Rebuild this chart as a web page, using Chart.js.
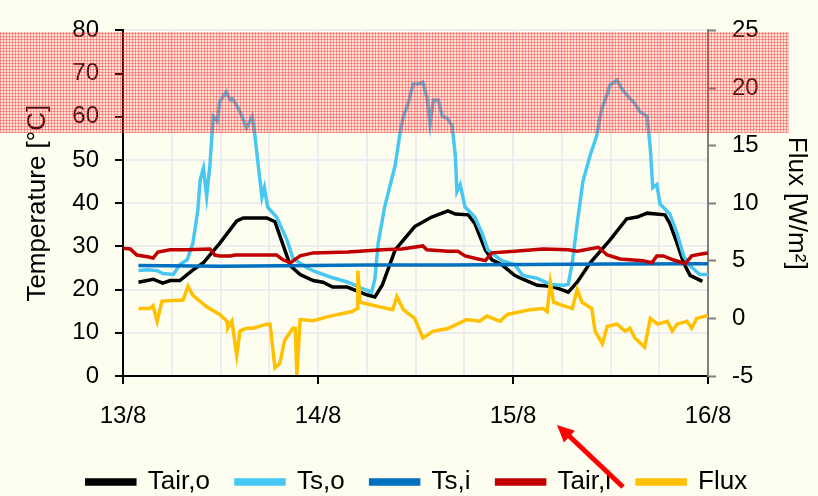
<!DOCTYPE html>
<html>
<head>
<meta charset="utf-8">
<script src="https://cdn.jsdelivr.net/npm/chart.js@4.4.0/dist/chart.umd.min.js"></script>
<style>
  html, body { margin: 0; padding: 0; background: #FEFEF0; }
</style>
</head>
<body>
<canvas id="chart" width="818" height="496"></canvas>
<script>
// hours since 13/8 00:00
let dayLabels = ['13/8', '14/8', '15/8', '16/8'];

let tairOHours = [1.9,3.7,4.9,5.8,7,8.5,9.9,11.9,14,14.8,17.7,18.7,19.3,20.6,21.8,23.4,24.6,25.8,27.6,30,31,31.9,33.5,35.9,38,40,40.9,42.5,43.3,44.6,45.4,46.6,48.2,49.2,51,52.6,53.8,54.8,55.9,57.5,59.9,62,63.3,64.5,66.7,67.3,68.2,69,69.8,71.3];
let tairOVals  = [21.7,22.4,21.5,22.1,22.1,24.4,26.2,30.7,35.9,36.6,36.6,35.7,32.5,25.5,23.5,22.1,21.7,20.6,20.6,18.8,18.3,21,29.2,34.6,36.8,38.2,37.5,37.3,35.3,29.2,26.9,25.8,23.3,22.4,21,20.8,20.1,19.4,21.7,26.2,31.4,36.4,36.8,37.7,37.3,35.3,30.7,26.2,23.3,21.9];

let tsOHours = [1.9,3,4.2,4.9,6.2,7,7.9,8.6,9.2,9.5,9.9,10.3,10.7,11.1,11.6,11.9,12.7,13.2,13.5,14.4,15.2,15.9,16.2,16.6,17.1,17.4,17.8,18.9,20.2,20.9,22.6,23.6,25.7,27.7,29.4,30.6,31,31.4,32.2,33.5,34.1,34.5,35.1,35.7,36.3,36.9,37.4,37.8,38.2,38.8,39.3,39.9,40.5,40.9,41.1,41.5,42.1,43.3,44.2,44.9,46.6,48.2,49.2,51,52.6,54.2,54.8,55.3,55.9,56.6,57.5,58.3,58.9,59.6,59.9,60.8,61.5,62.4,63,63.6,64.5,64.9,65.2,65.7,66.1,67.3,68.2,69,69.8,71,72];
let tsOVals  = [24.4,24.6,24.4,23.7,23.5,25.8,26.9,30.7,38.2,45.4,48.1,41.6,48.8,60.1,59,63.5,65.8,63.9,64.2,61.2,57.4,60.1,56.3,49.5,41.4,43.6,39.1,36.8,31.4,27.3,25.1,24.2,22.8,21.7,20.3,19.4,22.4,30.7,39.1,48.8,56.3,60.1,63.1,67.6,67.6,68,64.6,58.3,63.9,63.9,60.1,59.7,57.9,51.1,42.7,44.3,39.1,36.8,33,29.2,26.7,25.8,23.3,22.6,21.2,21,21.2,26.2,35.3,45,51.1,55.6,61.7,65.3,67.3,68.5,66.2,64.2,63.1,61.2,60.1,52.7,43.6,44.3,39.8,37.5,33,27.8,25.5,23.5,23.5];

let tsIHours = [1.9,12,20,30,40,50,60,72];
let tsIVals  = [25.6,25.4,25.5,25.7,25.7,25.8,25.9,26.0];

let tairIHours = [0,0.9,1.7,3,3.7,4.3,5.8,7.9,10.7,11.3,11.9,13.2,13.8,16,18.9,19.7,20.6,21.8,23.4,27.7,31.9,34.3,36.9,37.4,40,41.2,42.1,43.7,44.6,45.4,48.2,51.7,54.8,55.9,58.5,59.6,61.2,64,65.1,65.7,66.5,67.7,69.2,70,71,72];
let tairIVals  = [29.6,29.4,28,27.6,27.3,28.7,29.2,29.2,29.4,28,27.8,27.8,28,28,28,26.9,26.2,27.8,28.5,28.7,29.2,29.4,30.1,29.2,28.9,28.9,27.8,27.1,26.7,28.5,28.9,29.4,29.2,28.9,29.8,28,27.1,26.7,26.2,27.8,27.8,26.9,26,27.8,28.2,28.5];

let fluxHours = [1.9,3.3,3.7,4.2,4.8,7.4,8,8.6,10.3,11.9,12.8,12.9,13.4,14,14.4,15.2,16,17.7,18.1,18.7,19.3,19.9,20.9,21.2,21.4,21.8,23.4,25.5,28.2,28.8,28.9,29.2,31.6,33.2,33.7,34.5,35.9,36.9,38.2,39.9,42.3,43.9,44.8,46.4,47.3,50.1,51.7,52.2,52.6,53,53.8,55.3,55.9,56.5,57.7,58.1,59,59.6,60.8,61.8,62.4,63,64.2,64.9,65.8,67,67.6,68.2,69.4,70,70.6,72];
let fluxVals  = [0.85,0.85,1.1,-0.25,1.5,1.6,2.8,2.0,1.0,0.34,-0.25,-0.85,-0.25,-3.2,-1.1,-0.85,-0.85,-0.5,-0.5,-4.3,-3.9,-1.9,-0.85,-0.85,-4.9,-0.1,-0.2,0.2,0.6,0.85,4.15,1.4,1.0,0.76,1.9,0.76,0,-1.7,-1.1,-0.9,-0.1,-0.25,0.2,-0.25,0.34,0.76,0.85,0.6,3.1,1.4,1.2,0.85,2.5,1.4,0.85,-1.1,-2.2,-0.7,-0.5,-1.1,-0.85,-1.7,-2.5,0,-0.5,-0.25,-1.1,-0.5,-0.25,-0.85,0,0.25];

function pts(hours, vals) {
  return hours.map((h, i) => ({x: h, y: vals[i]}));
}

function line(label, hours, vals, color, axis, order) {
  return {
    label: label,
    data: pts(hours, vals),
    borderColor: color,
    backgroundColor: color,
    borderWidth: 3.5,
    pointRadius: 0,
    tension: 0,
    fill: false,
    yAxisID: axis,
    order: order
  };
}

// hatched red band over the top of the chart
let hatch = document.createElement('canvas');
hatch.width = 3; hatch.height = 3;
let hctx = hatch.getContext('2d');
hctx.fillStyle = 'rgba(255,40,40,0.45)';
hctx.fillRect(0, 0, 3, 1);
hctx.fillRect(0, 0, 1, 3);
hctx.fillStyle = 'rgba(255,90,90,0.18)';
hctx.fillRect(1, 1, 2, 2);

let extras = {
  id: 'extras',
  beforeDraw(chart) {
    let c = chart.ctx;
    c.save();
    c.fillStyle = '#FEFEF0';
    c.fillRect(0, 0, chart.width, chart.height);
    c.restore();
  },
  afterLayout(chart) {
    let lg = chart.legend;
    let dy = 443 - lg.top;
    lg.top += dy; lg.bottom += dy;
  },
  afterDraw(chart) {
    let c = chart.ctx;
    c.save();
    c.fillStyle = c.createPattern(hatch, 'repeat');
    c.fillRect(0, 32, 789, 101);
    // arrow
    c.strokeStyle = '#FF0000';
    c.fillStyle = '#FF0000';
    c.lineWidth = 5;
    c.beginPath();
    c.moveTo(623, 487);
    c.lineTo(566, 433);
    c.stroke();
    let ang = Math.atan2(425 - 487, 557 - 623);
    c.beginPath();
    c.moveTo(557, 425);
    c.lineTo(557 - 17 * Math.cos(ang) + 8 * Math.sin(ang), 425 - 17 * Math.sin(ang) - 8 * Math.cos(ang));
    c.lineTo(557 - 17 * Math.cos(ang) - 8 * Math.sin(ang), 425 - 17 * Math.sin(ang) + 8 * Math.cos(ang));
    c.closePath();
    c.fill();
    c.restore();
  }
};

let font = 'Liberation Sans, Arial, sans-serif';
let gridCol = '#EDEDF0';

new Chart(document.getElementById('chart').getContext('2d'), {
  type: 'line',
  data: {
    datasets: [
      line('Tair,o', tairOHours, tairOVals, '#000000', 'y', 4),
      line('Ts,o', tsOHours, tsOVals, '#47C8F2', 'y', 3),
      line('Ts,i', tsIHours, tsIVals, '#0070C0', 'y', 2),
      line('Tair,i', tairIHours, tairIVals, '#C00000', 'y', 1),
      line('Flux', fluxHours, fluxVals, '#FFC000', 'y2', 0)
    ]
  },
  options: {
    responsive: false,
    animation: false,
    layout: { autoPadding: false, padding: { top: 22, left: 18, right: 2, bottom: 0 } },
    plugins: {
      legend: {
        position: 'bottom',
        labels: {
          font: { family: font, size: 26 },
          color: '#000',
          boxWidth: 48,
          boxHeight: 4,
          padding: 26,
          sort: (a, b) => a.datasetIndex - b.datasetIndex
        }
      },
      tooltip: { enabled: false }
    },
    scales: {
      x: {
        type: 'linear',
        min: 0, max: 72,
        afterFit: s => { s.height = 58; },
        ticks: {
          stepSize: 6,
          autoSkip: false,
          maxRotation: 0,
          padding: 18,
          color: '#000',
          font: { family: font, size: 24 },
          callback: v => (v % 24 === 0 ? dayLabels[v / 24] : '')
        },
        grid: {
          color: gridCol,
          lineWidth: 2,
          tickLength: 8,
          tickColor: ctx => (ctx.tick && ctx.tick.value % 24 === 0 ? '#000' : 'rgba(0,0,0,0)'),
          tickWidth: 2
        },
        border: { color: '#000', width: 2 }
      },
      y: {
        position: 'left',
        min: 0, max: 80,
        afterFit: s => { s.width = 105; },
        ticks: {
          stepSize: 10,
          padding: 16,
          color: '#000',
          font: { family: font, size: 24 }
        },
        grid: { color: gridCol, lineWidth: 2, tickLength: 8, tickColor: '#000', tickWidth: 2 },
        border: { color: '#000', width: 2 },
        title: {
          display: true,
          text: 'Temperature [°C]',
          color: '#000',
          font: { family: font, size: 26 }
        }
      },
      y2: {
        position: 'right',
        min: -5, max: 25,
        afterFit: s => { s.width = 108; },
        ticks: {
          stepSize: 5,
          padding: 16,
          color: '#000',
          font: { family: font, size: 24 }
        },
        grid: { drawOnChartArea: false, tickLength: 8, tickColor: '#808080', tickWidth: 2 },
        border: { color: '#808080', width: 2 },
        title: {
          display: true,
          text: 'Flux [W/m²]',
          color: '#000',
          font: { family: font, size: 26 }
        }
      }
    }
  },
  plugins: [extras]
});
</script>
</body>
</html>
